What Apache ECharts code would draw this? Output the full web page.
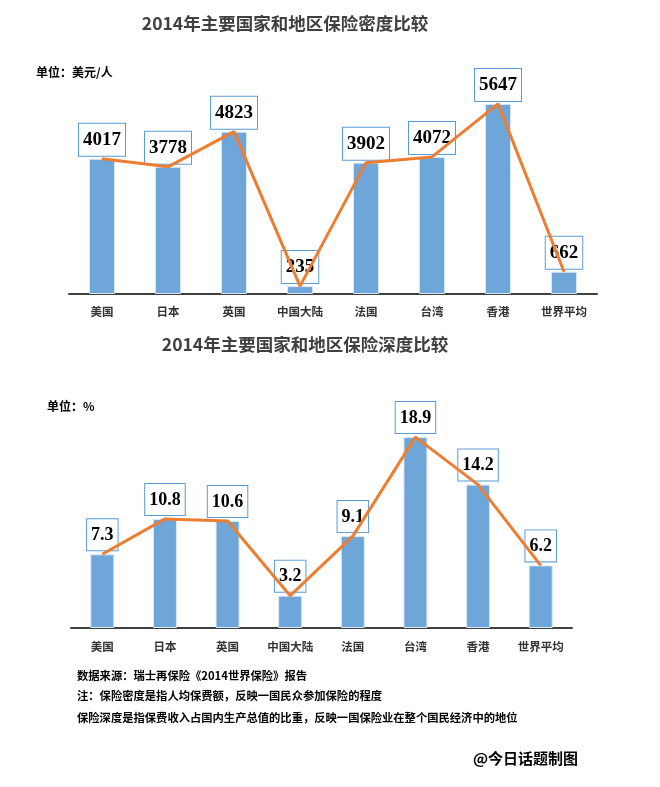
<!DOCTYPE html>
<html>
<head>
<meta charset="utf-8">
<script src="https://cdn.jsdelivr.net/npm/echarts@6/dist/echarts.min.js"></script>
<style>
html,body{margin:0;padding:0;background:#fff;}
#main{width:660px;height:787px;}
</style>
</head>
<body>
<div id="main"></div>
<script>
const categories = ['美国','日本','英国','中国大陆','法国','台湾','香港','世界平均'];
const densityValues = [4017, 3778, 4823, 235, 3902, 4072, 5647, 662];
const depthValues = [7.3, 10.8, 10.6, 3.2, 9.1, 18.9, 14.2, 6.2];
const title1 = '2014年主要国家和地区保险密度比较';
const title2 = '2014年主要国家和地区保险深度比较';
const unit1 = '单位：美元/人';
const unit2 = '单位：%';
const notes = [
  '数据来源：瑞士再保险《2014世界保险》报告',
  '注：保险密度是指人均保费额，反映一国民众参加保险的程度',
  '保险深度是指保费收入占国内生产总值的比重，反映一国保险业在整个国民经济中的地位'
];
const credit = '@今日话题制图';

const CJK = '"Noto Sans CJK SC", "Noto Sans", sans-serif';
const BLUE = '#6fa6da';
const ORANGE = '#ed7d31';

function labelStyle(size, dist) {
  return {
    show: true,
    position: 'top',
    distance: dist,
    color: '#000',
    fontFamily: '"Liberation Serif", "DejaVu Serif", serif',
    fontWeight: 'bold',
    fontSize: size,
    backgroundColor: '#fff',
    borderColor: '#5b9bd5',
    borderWidth: 1,
    padding: [7, 4, 6, 4]
  };
}

const chart = echarts.init(document.getElementById('main'), null, {renderer: 'canvas'});

chart.setOption({
  backgroundColor: '#fff',
  animation: false,
  graphic: [
    {type: 'text', x: 285, y: 23, style: {text: title1, font: 'bold 17.5px ' + CJK, fill: '#404040', align: 'center', verticalAlign: 'middle'}},
    {type: 'text', x: 305, y: 344, style: {text: title2, font: 'bold 17.5px ' + CJK, fill: '#404040', align: 'center', verticalAlign: 'middle'}},
    {type: 'text', left: 36, top: 66, style: {text: unit1, font: 'bold 12px ' + CJK, fill: '#000'}},
    {type: 'text', left: 47, top: 400, style: {text: unit2, font: 'bold 12px ' + CJK, fill: '#000'}},
    {type: 'text', left: 77, top: 670, style: {text: notes[0], font: 'bold 11.3px ' + CJK, fill: '#000'}},
    {type: 'text', left: 77, top: 690, style: {text: notes[1], font: 'bold 11.3px ' + CJK, fill: '#000'}},
    {type: 'text', left: 77, top: 712, style: {text: notes[2], font: 'bold 11.3px ' + CJK, fill: '#000'}},
    {type: 'text', left: 473, top: 751, style: {text: credit, font: 'bold 15px ' + CJK, fill: '#000'}}
  ],
  grid: [
    {left: 69, width: 528, top: 92, height: 202},
    {left: 71, width: 501, top: 426, height: 202}
  ],
  xAxis: [
    {type: 'category', gridIndex: 0, data: categories,
      axisLine: {lineStyle: {color: '#404040', width: 2}}, axisTick: {show: false},
      axisLabel: {margin: 12, fontFamily: CJK, fontWeight: 'bold', fontSize: 11.5, color: '#333'}},
    {type: 'category', gridIndex: 1, data: categories,
      axisLine: {lineStyle: {color: '#404040', width: 2}}, axisTick: {show: false},
      axisLabel: {margin: 13, fontFamily: CJK, fontWeight: 'bold', fontSize: 11.5, color: '#333'}}
  ],
  yAxis: [
    {type: 'value', gridIndex: 0, min: 0, max: 6000, show: false, splitLine: {show: false}},
    {type: 'value', gridIndex: 1, min: 0, max: 20, show: false, splitLine: {show: false}}
  ],
  series: [
    {type: 'bar', xAxisIndex: 0, yAxisIndex: 0, data: densityValues, barWidth: 26, z: 2,
      itemStyle: {color: BLUE, borderColor: '#d9e8f6', borderWidth: 1},
      label: labelStyle(19, 3)},
    {type: 'line', xAxisIndex: 0, yAxisIndex: 0, data: densityValues, z: 5, showSymbol: false, symbol: 'none',
      lineStyle: {color: ORANGE, width: 3}},
    {type: 'bar', xAxisIndex: 1, yAxisIndex: 1, data: depthValues, barWidth: 24, z: 2,
      itemStyle: {color: BLUE, borderColor: '#d9e8f6', borderWidth: 1},
      label: labelStyle(18, 4)},
    {type: 'line', xAxisIndex: 1, yAxisIndex: 1, data: depthValues, z: 5, showSymbol: false, symbol: 'none',
      lineStyle: {color: ORANGE, width: 3}}
  ]
});
</script>
</body>
</html>
